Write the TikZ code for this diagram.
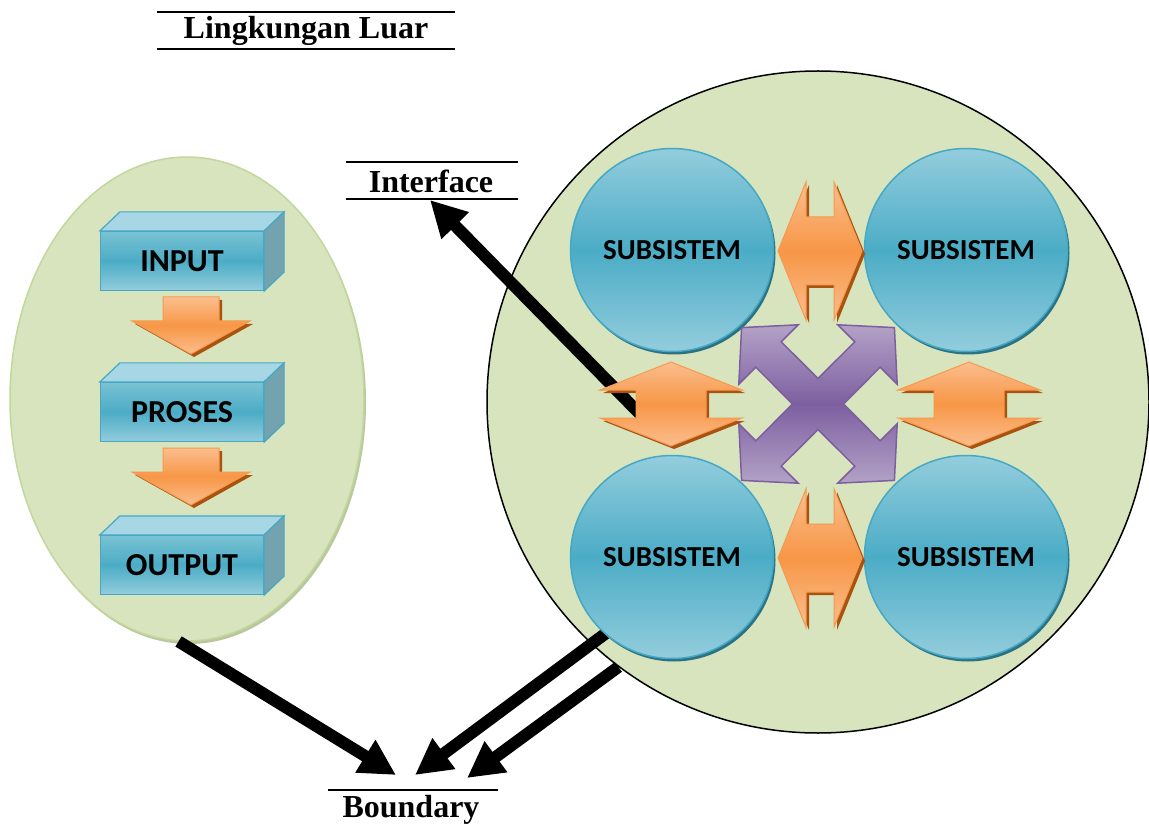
\documentclass[tikz,border=0pt]{standalone}
\usepackage{fontspec}
\setmainfont{Liberation Serif}
\newfontfamily\calibrifont{Carlito}
\usetikzlibrary{arrows.meta,calc,shapes.geometric}

\definecolor{envgreen}{HTML}{D7E4BD}
\definecolor{envedge}{HTML}{C3D69B}
\definecolor{envshadow}{HTML}{B9C79F}
\definecolor{tealmid}{HTML}{4BACC6}
\definecolor{teallight}{HTML}{93CDDD}
\definecolor{tealtop}{HTML}{7AC2D4}
\definecolor{tealedge}{HTML}{46A8C3}
\definecolor{tealshadow}{HTML}{2A7284}
\definecolor{boxtop}{HTML}{A7D7E4}
\definecolor{boxside}{HTML}{72A3AE}
\definecolor{orangemid}{HTML}{F79646}
\definecolor{orangelight}{HTML}{FBBE8E}
\definecolor{orangeedge}{HTML}{F59A4E}
\definecolor{orangeshadow}{HTML}{A9530F}
\definecolor{purplemid}{HTML}{7D5FA0}
\definecolor{purplelight}{HTML}{B3A2C7}
\definecolor{purpleedge}{HTML}{7B5F9E}

\begin{document}
\begin{tikzpicture}[x=1pt,y=-1pt,
  titletext/.style={font=\fontsize{32}{38}\selectfont\bfseries, inner sep=0pt},
  ruleline/.style={line width=2pt},
  boxface/.style={draw=tealedge, line width=1.2pt,
    top color=tealtop, bottom color=teallight, middle color=tealmid,
    minimum width=163pt, minimum height=59pt, inner sep=0pt,
    font=\calibrifont\bfseries\fontsize{32}{38}\selectfont},
  boxtopface/.style={draw=tealedge, line width=1.2pt, fill=boxtop},
  boxsideface/.style={draw=tealedge, line width=1.2pt, fill=boxside},
  subsys/.style={circle, draw=tealedge, line width=1.5pt,
    top color=teallight, bottom color=teallight, middle color=tealmid,
    minimum size=203pt, inner sep=0pt,
    font=\calibrifont\bfseries\fontsize{29}{34}\selectfont},
  orangebody/.style={draw=orangeedge, line width=1pt,
    top color=orangelight, bottom color=orangelight, middle color=orangemid},
  orangeshade/.style={fill=orangeshadow},
  blackarrow/.style={line width=12pt, -{Triangle[length=36pt,width=36pt]}},
  % double arrow pointing left and right
  lrarrow/.pic={
    \fill[orangeshade, shift={(3,3)}] (-42,0) -- (-14,-69) -- (-14,-34) -- (14,-34) -- (14,-69)
      -- (42,0) -- (14,69) -- (14,34) -- (-14,34) -- (-14,69) -- cycle;
    \path[orangebody] (-42,0) -- (-14,-69) -- (-14,-34) -- (14,-34) -- (14,-69)
      -- (42,0) -- (14,69) -- (14,34) -- (-14,34) -- (-14,69) -- cycle;
  },
  % double arrow pointing up and down
  udarrow/.pic={
    \fill[orangeshade, shift={(3,3)}] (0,-42) -- (71,-14) -- (35,-14) -- (35,14) -- (71,14)
      -- (0,42) -- (-71,14) -- (-35,14) -- (-35,-14) -- (-71,-14) -- cycle;
    \path[orangebody] (0,-42) -- (71,-14) -- (35,-14) -- (35,14) -- (71,14)
      -- (0,42) -- (-71,14) -- (-35,14) -- (-35,-14) -- (-71,-14) -- cycle;
  },
  % block arrow pointing down, origin at the top of the shaft
  downarrow/.pic={
    \fill[orangeshade, shift={(3,3)}] (-28,0) -- (28,0) -- (28,24) -- (59,24) -- (0,57)
      -- (-59,24) -- (-28,24) -- cycle;
    \path[orangebody] (-28,0) -- (28,0) -- (28,24) -- (59,24) -- (0,57)
      -- (-59,24) -- (-28,24) -- cycle;
  },
  % four-way diagonal arrow
  quadarrow/.pic={
    \path[draw=purpleedge, line width=1.5pt,
      top color=purplelight, bottom color=purplelight, middle color=purplemid]
      (25.5,0) -- (62.2,36.8) -- (79.2,19.8) -- (76.4,76.4) -- (19.8,79.2) -- (36.8,62.2)
      -- (0,25.5) -- (-36.8,62.2) -- (-19.8,79.2) -- (-76.4,76.4) -- (-79.2,19.8) -- (-62.2,36.8)
      -- (-25.5,0) -- (-62.2,-36.8) -- (-79.2,-19.8) -- (-76.4,-76.4) -- (-19.8,-79.2) -- (-36.8,-62.2)
      -- (0,-25.5) -- (36.8,-62.2) -- (19.8,-79.2) -- (76.4,-76.4) -- (79.2,-19.8) -- (62.2,-36.8)
      -- cycle;
  }
]
\useasboundingbox[fill=white] (0,0) rectangle (1149,826);

% headings with their rules
\node[titletext] (lingk) at (306,31) {Lingkungan Luar};
\draw[ruleline] (157,12) -- (455,12);
\draw[ruleline] (157,49.5) -- (455,49.5);

\node[titletext] (iface) at (431,181) {Interface};
\draw[ruleline] (346,162.5) -- (518,162.5);
\draw[ruleline] (346,199.5) -- (518,199.5);

\node[titletext] (bound) at (411,810) {Boundary};
\draw[ruleline] (328,790) -- (498,790);

% outer environment with the input-process-output chain
\fill[envshadow] (189,402) ellipse [x radius=177pt, y radius=242pt];
\node[ellipse, draw=envedge, line width=1.5pt, fill=envgreen,
  minimum width=354pt, minimum height=484pt, inner sep=0pt] (env) at (187,399) {};

\node[boxface] (input) at (182,261) {INPUT};
\node[boxface] (proses) at (182,412) {PROSES};
\node[boxface] (output) at (182,565) {OUTPUT};
\foreach \b in {input,proses,output}{
  \draw[boxtopface] (\b.north west) -- ++(20,-19) -- ($(\b.north east)+(20,-19)$) -- (\b.north east) -- cycle;
  \draw[boxsideface] (\b.north east) -- ++(20,-19) -- ($(\b.south east)+(20,-19)$) -- (\b.south east) -- cycle;
}
\pic at (191,297) {downarrow};
\pic at (191,448) {downarrow};

% the system with its subsystems
\node[circle, draw=black, line width=1.5pt, fill=envgreen,
  minimum size=662pt, inner sep=0pt] (sys) at (818,402) {};

\coordinate (ifaceStart) at (640,414);
\coordinate (ifaceTip) at (430,200);
\coordinate (envTip) at (396,775);
\coordinate (subTip) at (415,775);
\coordinate (sysTip) at (467,778);
% rim point of the lower left subsystem, where its arrow leaves
\coordinate (subEdge) at ($(672,557)+(131:101.5)$);

\draw[blackarrow] (ifaceStart) -- (ifaceTip);
\draw[blackarrow] (env.268) -- (envTip);
\draw[blackarrow] (sys.233) -- (sysTip);
\draw[blackarrow] (subEdge) -- (subTip);

\foreach \p in {(672,250),(966,250),(672,557),(966,557)}
  \fill[tealshadow] \p ++(2,3) circle [radius=101.5pt];
\node[subsys] (s1) at (672,250) {SUBSISTEM};
\node[subsys] (s2) at (966,250) {SUBSISTEM};
\node[subsys] (s3) at (672,557) {SUBSISTEM};
\node[subsys] (s4) at (966,557) {SUBSISTEM};

\pic at (818,404) {quadarrow};

\pic at (820,251) {lrarrow};
\pic at (820,558) {lrarrow};
\pic at (671,404) {udarrow};
\pic at (969,404) {udarrow};
\end{tikzpicture}
\end{document}
